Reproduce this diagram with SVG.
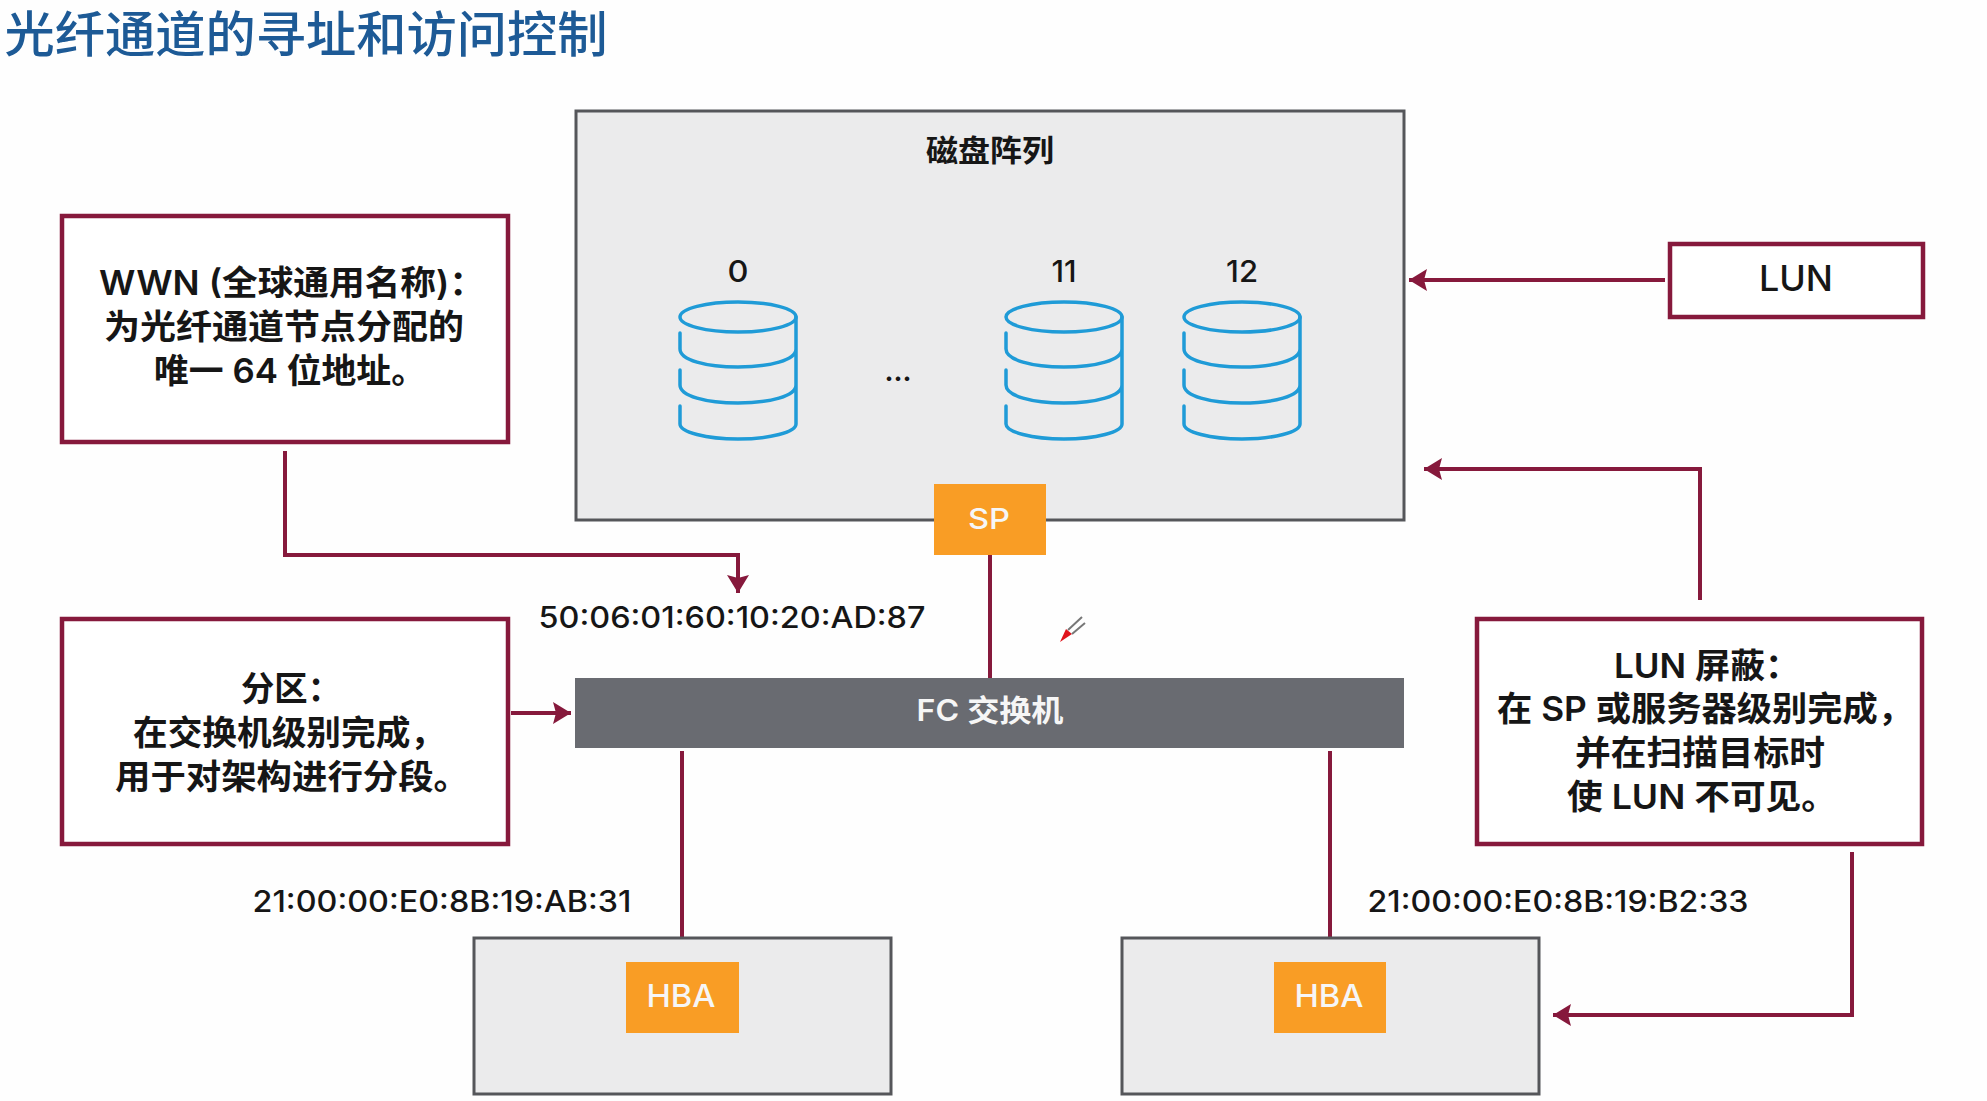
<svg xmlns="http://www.w3.org/2000/svg" width="1987" height="1101" viewBox="0 0 1987 1101">
<style>
text{font-family:"Inter","Noto Sans CJK SC","Noto Sans",sans-serif;text-anchor:middle;dominant-baseline:central;fill:#161616;font-weight:500}
.cjk{font-family:"Inter","Noto Sans CJK SC",sans-serif;font-weight:600;font-size:34px}
.lab{font-size:30px}
.wh{fill:#f6f6f6}
.host{fill:#ebebec;stroke:#55565a;stroke-width:3}
.call{fill:#fff;stroke:#86193c;stroke-width:4.5}
.or{fill:#f99d25}
.conn{fill:none;stroke:#86193c;stroke-width:4}
.disk{fill:none;stroke:#1f9bd7;stroke-width:3.5;stroke-linecap:round}
</style>
<defs>
<marker id="ah" markerUnits="userSpaceOnUse" markerWidth="20" markerHeight="22" refX="18" refY="11" orient="auto"><path d="M0 0L18 11L0 22L3 11Z" fill="#86193c"/></marker>
<g id="cyl" class="disk"><ellipse cx="0" cy="15" rx="58" ry="15"/><path d="M58 15V122C58 130 32 137 0 137C-32 137 -58 130-58 122V104M-58 31V47C-58 58-32 65 0 65C32 65 58 58 58 47M-58 68V83C-58 94-32 101 0 101C32 101 58 94 58 83"/></g>
</defs>
<rect width="1987" height="1101" fill="#fefefe"/>
<text id="title" x="306" y="30" style="font-family:'Noto Sans CJK SC',sans-serif;font-size:49px;font-weight:500;fill:#1d5a96" textLength="603" lengthAdjust="spacingAndGlyphs">光纤通道的寻址和访问控制</text>
<g id="array">
<rect class="host" x="576" y="111" width="828" height="409"/>
<text class="cjk" x="990" y="148" style="font-size:30px;font-family:'Noto Sans CJK SC',sans-serif;font-weight:700" textLength="128" lengthAdjust="spacingAndGlyphs">磁盘阵列</text>
<text class="lab" x="738" y="271" textLength="21" lengthAdjust="spacingAndGlyphs">0</text>
<text class="lab" x="1064" y="271" textLength="25" lengthAdjust="spacingAndGlyphs">11</text>
<text class="lab" x="1242" y="271" textLength="32" lengthAdjust="spacingAndGlyphs">12</text>
<use href="#cyl" x="738" y="302"/>
<use href="#cyl" x="1064" y="302"/>
<use href="#cyl" x="1242" y="302"/>
<text class="lab" x="898" y="371" style="font-weight:700;font-size:27px">...</text>
</g>
<g id="connectors">
<path class="conn" d="M990 555V678"/>
<path class="conn" d="M682 751V937"/>
<path class="conn" d="M1330 751V937"/>
<path class="conn" marker-end="url(#ah)" d="M285 451V555H738V593"/>
<path class="conn" marker-end="url(#ah)" d="M511 713H571"/>
<path class="conn" marker-end="url(#ah)" d="M1665 280H1409"/>
<path class="conn" marker-end="url(#ah)" d="M1700 600V469H1424"/>
<path class="conn" marker-end="url(#ah)" d="M1852 852V1015H1553"/>
</g>
<g id="sp"><rect class="or" x="934" y="484" width="112" height="71"/><text class="wh" x="989" y="518" style="font-size:29px" textLength="42" lengthAdjust="spacingAndGlyphs">SP</text></g>
<g id="switch"><rect x="575" y="678" width="829" height="70" fill="#696b71"/><text class="wh cjk" x="990" y="710" style="font-size:30px" textLength="147" lengthAdjust="spacingAndGlyphs">FC 交换机</text></g>
<g id="wwn-box"><rect class="call" x="62" y="216" width="446" height="226"/>
<text class="cjk" x="292" y="282" textLength="386" lengthAdjust="spacingAndGlyphs">WWN (全球通用名称)：</text>
<text class="cjk" x="284" y="326" textLength="360" lengthAdjust="spacingAndGlyphs">为光纤通道节点分配的</text>
<text class="cjk" x="290" y="370" textLength="272" lengthAdjust="spacingAndGlyphs">唯一 64 位地址。</text></g>
<g id="zone-box"><rect class="call" x="62" y="619" width="446" height="225"/>
<text class="cjk" x="291" y="688" textLength="100" lengthAdjust="spacingAndGlyphs">分区：</text>
<text class="cjk" x="289" y="732" textLength="312" lengthAdjust="spacingAndGlyphs">在交换机级别完成，</text>
<text class="cjk" x="292" y="776" textLength="354" lengthAdjust="spacingAndGlyphs">用于对架构进行分段。</text></g>
<g id="lun-box"><rect class="call" x="1670" y="244" width="253" height="73"/><text x="1796" y="278" style="font-size:35px" textLength="74" lengthAdjust="spacingAndGlyphs">LUN</text></g>
<g id="mask-box"><rect class="call" x="1477" y="619" width="445" height="225"/>
<text class="cjk" x="1707" y="665" textLength="186" lengthAdjust="spacingAndGlyphs">LUN 屏蔽：</text>
<text class="cjk" x="1705" y="708" textLength="416" lengthAdjust="spacingAndGlyphs">在 SP 或服务器级别完成，</text>
<text class="cjk" x="1700" y="752" textLength="250" lengthAdjust="spacingAndGlyphs">并在扫描目标时</text>
<text class="cjk" x="1702" y="796" textLength="270" lengthAdjust="spacingAndGlyphs">使 LUN 不可见。</text></g>
<text id="addr-sp" class="lab" x="732" y="617" textLength="387" lengthAdjust="spacingAndGlyphs">50:06:01:60:10:20:AD:87</text>
<text id="addr-a" class="lab" x="442" y="901" textLength="379" lengthAdjust="spacingAndGlyphs">21:00:00:E0:8B:19:AB:31</text>
<text id="addr-b" class="lab" x="1558" y="901" textLength="381" lengthAdjust="spacingAndGlyphs">21:00:00:E0:8B:19:B2:33</text>
<g id="host-a"><rect class="host" x="474" y="938" width="417" height="156"/><rect class="or" x="626" y="962" width="113" height="71"/><text class="wh" x="681" y="995" style="font-size:31px" textLength="69" lengthAdjust="spacingAndGlyphs">HBA</text></g>
<g id="host-b"><rect class="host" x="1122" y="938" width="417" height="156"/><rect class="or" x="1274" y="962" width="112" height="71"/><text class="wh" x="1329" y="995" style="font-size:31px" textLength="69" lengthAdjust="spacingAndGlyphs">HBA</text></g>
<g id="cursor"><path d="M1060 642L1066 629L1072 634Z" fill="#e0141c"/><path d="M1068 630L1082 617M1072 634L1085 623" stroke="#777" stroke-width="2" fill="none"/></g>
</svg>
